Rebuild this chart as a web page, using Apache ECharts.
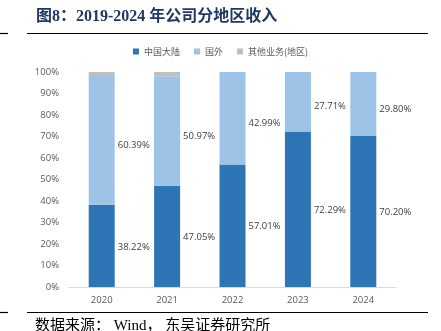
<!DOCTYPE html>
<html><head><meta charset="utf-8">
<script src="https://cdn.jsdelivr.net/npm/echarts@6/dist/echarts.min.js"></script>
<style>html,body{margin:0;padding:0;background:#fff}#c{width:441px;height:331px}</style>
</head><body><div id="c"></div>
<script>
const categories = ['2020','2021','2022','2023','2024'];
const mainland = [38.22, 47.05, 57.01, 72.29, 70.20];
const overseas = [60.39, 50.97, 42.99, 27.71, 29.80];
const other = [1.39, 1.98, 0, 0, 0];
const yTicks = [0,10,20,30,40,50,60,70,80,90,100];

const chart = echarts.init(document.getElementById('c'));
const lblBase = {show:true, position:'right', distance:3, color:'#404040', fontSize:9.5,
  fontFamily:'"Open Sans","Noto Sans",sans-serif', formatter:p=>p.value.toFixed(2)+'%'};
chart.setOption({
  animation:false,
  graphic:[
    {type:'text', left:36, top:9, style:{text:'图8：2019-2024 年公司分地区收入', fill:'#1F3864',
      font:'bold 16px "Liberation Serif", "Noto Sans CJK SC", serif'}},
    {type:'line', shape:{x1:27,y1:33.5,x2:428,y2:33.5}, style:{stroke:'#000',lineWidth:1.2}},
    {type:'line', shape:{x1:0,y1:33.5,x2:8,y2:33.5}, style:{stroke:'#000',lineWidth:1.2}},
    {type:'line', shape:{x1:27,y1:312.5,x2:428,y2:312.5}, style:{stroke:'#000',lineWidth:1.2}},
    {type:'line', shape:{x1:0,y1:312.5,x2:8,y2:312.5}, style:{stroke:'#000',lineWidth:1.2}},
    {type:'text', left:35, top:319, style:{text:'数据来源： Wind， 东吴证券研究所', fill:'#000',
      font:'15px "Liberation Serif", "Noto Sans CJK SC", serif'}}
  ],
  legend:{top:42, left:'center', itemWidth:6, itemHeight:6, itemGap:14, icon:'rect',
    textStyle:{color:'#595959', fontSize:9, fontFamily:'"Noto Sans CJK SC",sans-serif'},
    data:['中国大陆','国外','其他业务(地区)']},
  grid:{left:69, right:45, top:72, bottom:44},
  xAxis:{type:'category', data:categories,
    axisLine:{lineStyle:{color:'#D9D9D9'}}, axisTick:{show:false},
    axisLabel:{color:'#595959', fontSize:9.5, margin:8, fontFamily:'"Open Sans","Noto Sans",sans-serif'}},
  yAxis:{type:'value', min:0, max:100, interval:10,
    axisLine:{show:false}, axisTick:{show:false}, splitLine:{show:false},
    axisLabel:{color:'#595959', fontSize:9.5, margin:10, fontFamily:'"Open Sans","Noto Sans",sans-serif',
      formatter:v=>yTicks.includes(v)?v+'%':''}},
  series:[
    {name:'中国大陆', type:'bar', stack:'s', data:mainland, barWidth:26,
      itemStyle:{color:'#2E75B6'}, label:Object.assign({}, lblBase, {offset:[0,1]})},
    {name:'国外', type:'bar', stack:'s', data:overseas, barWidth:26,
      itemStyle:{color:'#9DC3E6'}, label:Object.assign({}, lblBase, {offset:[0,5]})},
    {name:'其他业务(地区)', type:'bar', stack:'s', data:other, barWidth:26,
      itemStyle:{color:'#BFBFBF'}}
  ]
});
</script></body></html>
